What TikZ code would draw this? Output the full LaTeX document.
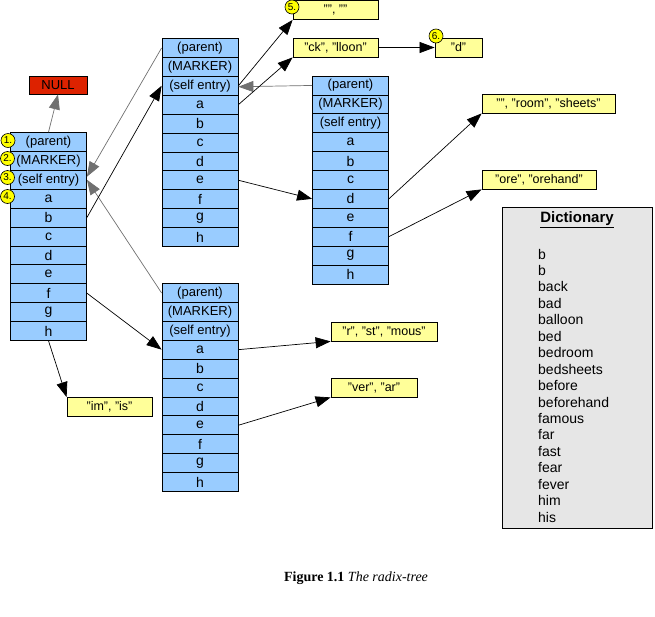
\documentclass[tikz,border=0pt]{standalone}
\usepackage{fontspec}
\setmainfont{Liberation Sans}
\newfontfamily\capfont{Liberation Serif}
\usetikzlibrary{arrows.meta}
\definecolor{cellblue}{HTML}{99CCFF}
\definecolor{noteyellow}{HTML}{FFFF99}
\definecolor{markyellow}{HTML}{FFFF00}
\definecolor{nullred}{HTML}{DD2200}
\definecolor{dictgray}{HTML}{E6E6E6}
\definecolor{ptrgray}{HTML}{707070}
\tikzset{
  cell/.style={draw, fill=cellblue, line width=0.8pt, minimum width=76pt, minimum height=18.9pt, inner sep=0pt, font=\fontsize{13}{15}\selectfont},
  note/.style={draw, fill=noteyellow, line width=0.8pt, minimum height=19pt, inner sep=0pt, font=\fontsize{12.5}{14}\selectfont},
  marker/.style={circle, draw, fill=markyellow, line width=0.6pt, minimum size=14pt, inner sep=0pt, font=\fontsize{10}{11}\selectfont},
  ptr/.style={draw=black, line width=0.7pt, -{Triangle[length=15pt,width=11pt]}},
  backptr/.style={draw=ptrgray, line width=0.7pt, -{Triangle[length=15pt,width=11pt]}},
  word/.style={anchor=west, inner sep=0pt, font=\fontsize{14}{16}\selectfont}
}
\newcommand\rxblock[3]{%
  \foreach[count=\i from 0] \t in {{(parent)},{(MARKER)},{(self entry)},a,b,c,d,e,f,g,h}{%
    \ifnum\i>2 \def\cellfont{\fontsize{14}{16}\selectfont}\else\def\cellfont{}\fi
    \node[cell] (#1\i) at (#2,#3+9.45+18.9*\i) {\cellfont\t};}}
\begin{document}
\begin{tikzpicture}[x=1pt,y=-1pt]
\useasboundingbox (0,0) rectangle (655,616);
% blocks
\rxblock{L}{48.5}{132.5}
\rxblock{M}{200}{38.5}
\rxblock{R}{350.5}{76}
\rxblock{B}{200}{283.5}
% null
\node[draw, fill=nullred, line width=0.8pt, minimum width=58pt, minimum height=18pt, inner sep=0pt, font=\fontsize{13}{15}\selectfont] (null) at (58,85) {NULL};
% notes
\node[note, minimum width=85pt] (y5) at (335.5,10) {"", ""};
\node[note, minimum width=85pt] (yck) at (335.5,47.5) {"ck", "lloon"};
\node[note, minimum width=47pt] (yd) at (458.5,47.5) {"d"};
\node[note, minimum width=133pt] (yroom) at (548.5,103.5) {"", "room", "sheets"};
\node[note, minimum width=114pt] (yore) at (539,179.5) {"ore", "orehand"};
\node[note, minimum width=106pt] (yr) at (384,331.5) {"r", "st", "mous"};
\node[note, minimum width=86pt] (yver) at (374,387.5) {"ver", "ar"};
\node[note, minimum width=85pt] (yim) at (109.5,407) {"im", "is"};
% markers
\node[marker] (c1) at (8,140.5) {1.};
\node[marker] (c2) at (7.5,158.5) {2.};
\node[marker] (c3) at (7.5,177.5) {3.};
\node[marker] (c4) at (7.5,196.5) {4.};
\node[marker] (c5) at (292,7) {5.};
\node[marker] (c6) at (436,36) {6.};
% back pointers
\draw[backptr] (L0.north) -- (null.south);
\draw[backptr] (M0.west) -- ([yshift=3pt]L2.east);
\draw[backptr] (B0.west) -- ([yshift=0pt]L2.east);
\draw[backptr] (R0.west) -- ([yshift=-1pt]M2.east);
% child pointers
\draw[ptr] (L4.east) -- (M2.west);
\draw[ptr] (L8.east) -- (B3.west);
\draw[ptr] (L10.south) -- (yim.north west);
\draw[ptr] (M2.east) -- (y5.south west);
\draw[ptr] (M3.east) -- (yck.south west);
\draw[ptr] (yck.east) -- (yd.west);
\draw[ptr] (M7.east) -- (R6.west);
\draw[ptr] (R6.east) -- (yroom.south west);
\draw[ptr] (R8.east) -- (yore.south west);
\draw[ptr] (B3.east) -- (yr.south west);
\draw[ptr] (B7.east) -- (yver.south west);
% dictionary
\node[draw, fill=dictgray, line width=0.8pt, minimum width=150pt, minimum height=321pt, inner sep=0pt, anchor=north west] (dict) at (502,207) {};
\node[font=\fontsize{15}{17}\selectfont\bfseries, inner sep=0pt] (dtitle) at (577,220) {\underline{Dictionary}};
\foreach[count=\k from 0] \w in {b,b,back,bad,balloon,bed,bedroom,bedsheets,before,beforehand,famous,far,fast,fear,fever,him,his}{%
  \node[word] (w\k) at (538,254+16.45*\k) {\w};}
% caption
\node[font=\capfont\fontsize{14}{16}\selectfont, inner sep=0pt] (caption) at (356,578) {\textbf{Figure 1.1} \textit{The radix-tree}};
\end{tikzpicture}
\end{document}
